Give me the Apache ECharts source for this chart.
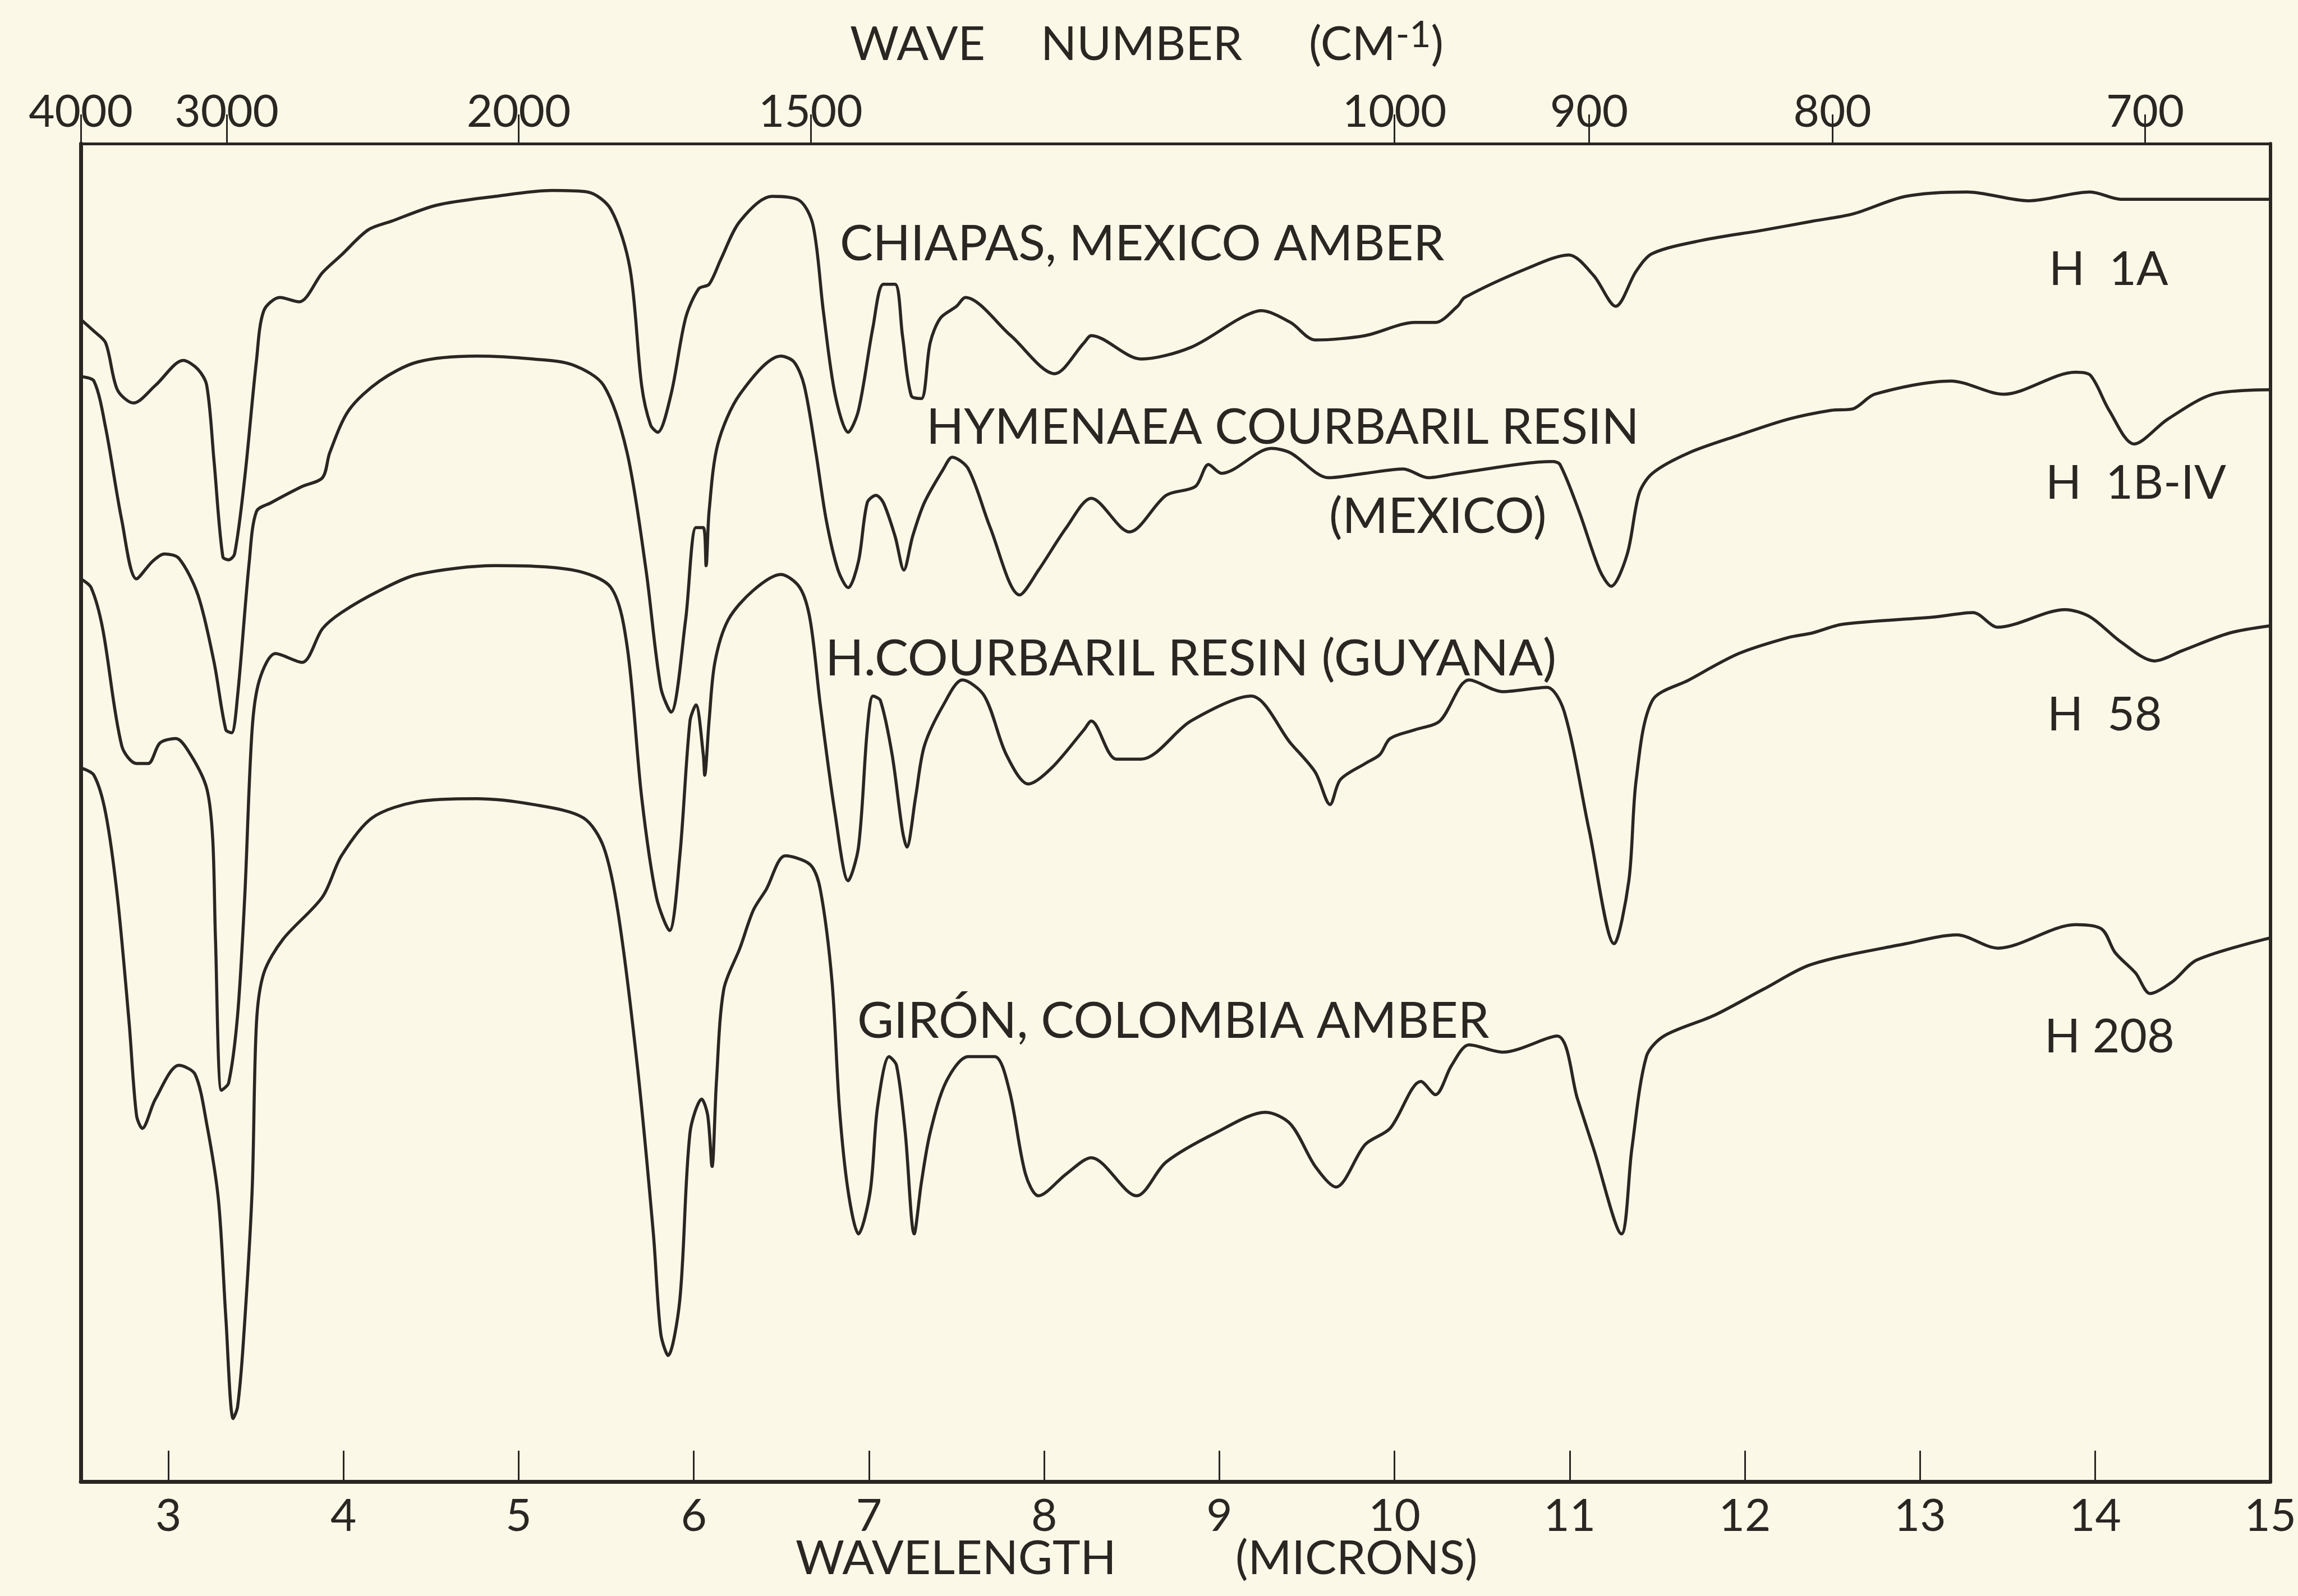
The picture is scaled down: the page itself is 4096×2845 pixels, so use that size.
<!DOCTYPE html>
<html>
<head>
<meta charset="utf-8">
<script src="https://cdn.jsdelivr.net/npm/echarts@6/dist/echarts.min.js"></script>
<style>
  html, body { margin: 0; padding: 0; background: #fbf8e8; }
  #chart { width: 4096px; height: 2845px; }
</style>
</head>
<body>
<div id="chart"></div>
<script>
// ---- tick labels ----
const wavelengthTicks = [3, 4, 5, 6, 7, 8, 9, 10, 11, 12, 13, 14, 15];
const wavenumberTicks = [4000, 3000, 2000, 1500, 1000, 900, 800, 700];

// ---- sample labels ----
const sampleNames = ['CHIAPAS, MEXICO AMBER', 'HYMENAEA COURBARIL RESIN', '(MEXICO)', 'H.COURBARIL RESIN (GUYANA)', 'GIRÓN, COLOMBIA AMBER'];
const sampleCodes = ['H  1A', 'H  1B-IV', 'H  58', 'H 208'];

// ---- spectra: [wavelength (microns), trace height (arbitrary units, offset traces)] ----
const chiapasAmber = [
  [2.50,793],[2.575,785],[2.642,777],[2.709,745],[2.801,736],[2.926,748],[3.085,765],[3.169,759],
  [3.219,748],[3.261,696],[3.311,631],[3.344,629],[3.378,633],[3.436,685],[3.503,765],[3.545,799],
  [3.637,808],[3.746,805],[3.880,825],[3.988,837],[4.139,854],[4.273,860],[4.532,871],[4.866,877],
  [5.192,881],[5.393,880],[5.527,868],[5.635,828],[5.702,748],[5.753,721],[5.794,716],[5.870,742],
  [5.953,794],[6.028,814],[6.087,817],[6.154,834],[6.263,860],[6.446,877],[6.605,874],[6.681,857],
  [6.739,799],[6.806,742],[6.881,716],[6.940,731],[7.023,788],[7.082,817],[7.149,817],[7.191,782],
  [7.241,741],[7.299,739],[7.349,777],[7.408,794],[7.500,802],[7.550,808],[7.809,782],[8.060,756],
  [8.227,777],[8.269,782],[8.554,766],[8.838,774],[9.122,794],[9.239,799],[9.406,791],[9.548,779],
  [9.833,782],[10.117,791],[10.234,791],[10.360,802],[10.401,808],[10.761,828],[10.995,837],
  [11.137,823],[11.263,802],[11.380,826],[11.472,838],[11.756,847],[12.107,854],[12.383,860],[12.617,865],
  [12.918,877],[13.269,880],[13.620,874],[13.972,880],[14.147,875],[14.498,875],[15.0,875]
];
const hymenaeaMexico = [
  [2.50,754],[2.575,751],[2.642,719],[2.734,656],[2.818,616],[2.910,628],[2.977,633],[3.060,630],
  [3.169,605],[3.261,559],[3.328,513],[3.361,511],[3.395,536],[3.462,628],[3.503,662],[3.587,668],
  [3.763,679],[3.880,685],[3.921,702],[4.030,731],[4.206,751],[4.423,764],[4.758,768],[5.084,766],
  [5.309,762],[5.485,748],[5.619,702],[5.727,622],[5.811,542],[5.870,525],[5.953,588],[6.012,651],
  [6.054,651],[6.070,625],[6.087,662],[6.137,708],[6.263,742],[6.497,768],[6.572,764],[6.630,748],
  [6.697,702],[6.756,656],[6.823,622],[6.881,610],[6.940,628],[6.990,668],[7.040,673],[7.082,668],
  [7.149,645],[7.199,622],[7.249,645],[7.316,668],[7.425,691],[7.475,699],[7.567,691],[7.692,651],
  [7.860,605],[7.968,622],[8.127,651],[8.269,671],[8.487,648],[8.696,673],[8.863,679],[8.938,694],
  [9.013,688],[9.298,705],[9.406,702],[9.624,685],[9.833,688],[10.050,691],[10.192,685],[10.360,688],
  [10.903,696],[10.945,694],[11.054,662],[11.171,622],[11.237,611],[11.329,633],[11.396,674],
  [11.472,688],[11.681,702],[11.965,714],[12.249,725],[12.492,731],[12.617,732],[12.742,742],
  [13.177,751],[13.478,742],[13.888,757],[13.972,755],[14.080,731],[14.222,708],[14.415,725],
  [14.674,742],[15.0,745]
];
const courbarilGuyana = [
  [2.50,616],[2.559,610],[2.625,582],[2.734,502],[2.818,490],[2.885,490],[2.952,504],[3.043,507],
  [3.127,496],[3.219,473],[3.253,439],[3.269,370],[3.303,267],[3.344,272],[3.395,318],[3.436,399],
  [3.478,513],[3.520,547],[3.612,565],[3.763,559],[3.880,582],[3.988,593],[4.206,608],[4.423,619],
  [4.866,625],[5.309,622],[5.527,610],[5.619,570],[5.702,467],[5.786,399],[5.861,376],[5.920,427],
  [5.978,519],[6.012,530],[6.054,496],[6.062,482],[6.087,519],[6.120,559],[6.196,588],[6.338,608],
  [6.497,619],[6.605,610],[6.664,588],[6.722,530],[6.806,456],[6.881,410],[6.940,433],[6.990,513],
  [7.023,536],[7.065,533],[7.132,496],[7.191,444],[7.216,433],[7.266,467],[7.316,502],[7.425,530],
  [7.533,547],[7.659,536],[7.784,496],[7.910,476],[8.043,487],[8.227,513],[8.269,519],[8.411,493],
  [8.554,493],[8.838,519],[9.181,536],[9.406,504],[9.548,484],[9.632,462],[9.691,479],[9.833,490],
  [9.916,496],[9.975,507],[10.117,513],[10.259,519],[10.426,547],[10.619,539],[10.870,542],
  [10.970,525],[11.112,444],[11.254,367],[11.338,410],[11.380,479],[11.472,533],[11.681,547],
  [11.965,565],[12.249,576],[12.383,579],[12.559,585],[13.085,590],[13.303,593],[13.445,583],
  [13.829,595],[13.972,590],[14.147,573],[14.339,560],[14.498,567],[14.766,579],[15.0,584]
];
const gironColombiaAmber = [
  [2.50,487],[2.575,482],[2.642,456],[2.709,399],[2.776,313],[2.818,250],[2.851,241],[2.926,261],
  [3.060,284],[3.152,278],[3.219,244],[3.286,192],[3.328,112],[3.370,43],[3.395,51],[3.428,95],
  [3.478,198],[3.503,313],[3.545,347],[3.654,370],[3.880,399],[3.988,427],[4.164,453],[4.423,464],
  [4.758,466],[5.084,462],[5.368,453],[5.485,433],[5.569,387],[5.677,284],[5.769,169],[5.811,101],
  [5.853,86],[5.920,124],[5.978,238],[6.045,261],[6.079,250],[6.104,215],[6.129,273],[6.171,336],
  [6.263,364],[6.340,390],[6.413,404],[6.522,427],[6.664,421],[6.722,404],[6.789,341],[6.831,255],[6.881,198],
  [6.940,169],[7.007,198],[7.048,255],[7.115,290],[7.157,284],[7.207,238],[7.258,169],[7.299,204],
  [7.349,238],[7.441,273],[7.567,290],[7.717,290],[7.801,267],[7.893,210],[7.968,195],[8.127,210],
  [8.269,221],[8.528,195],[8.696,218],[8.980,238],[9.264,252],[9.406,244],[9.548,215],[9.666,201],
  [9.833,230],[9.975,241],[10.151,273],[10.234,264],[10.326,284],[10.426,298],[10.619,293],
  [10.928,304],[11.045,261],[11.137,227],[11.296,169],[11.355,227],[11.438,290],[11.538,304],
  [11.823,318],[12.107,336],[12.383,353],[12.918,367],[13.211,373],[13.445,364],[13.888,380],
  [14.038,377],[14.114,361],[14.231,347],[14.314,333],[14.440,341],[14.582,356],[15.0,371]
];

const INK = '#2a2622';
const FONT = 'Lato, "Noto Sans", sans-serif';

const chart = echarts.init(document.getElementById('chart'));

function trace(name, data) {
  return {
    name: name, type: 'line', data: data,
    xAxisIndex: 0, yAxisIndex: 0,
    showSymbol: false, symbol: 'none', smooth: 0.3,
    lineStyle: { color: INK, width: 5.5 },
    silent: true
  };
}

function txt(text, x, y, size) {
  return {
    type: 'text', x: x, y: y, silent: true,
    style: { text: text, fill: INK, font: size + 'px ' + FONT, align: 'left', verticalAlign: 'middle' }
  };
}

const option = {
  backgroundColor: '#fbf8e8',
  animation: false,
  grid: { left: 144, right: 47, top: 256, bottom: 204, containLabel: false },
  xAxis: [
    {
      type: 'value', position: 'bottom', min: 2.5, max: 15,
      axisLine: { show: true, lineStyle: { color: INK, width: 7 } },
      axisTick: { show: true, inside: true, length: 55, customValues: wavelengthTicks,
                  lineStyle: { color: INK, width: 3 } },
      axisLabel: { show: true, customValues: wavelengthTicks, margin: 22,
                   color: INK, fontSize: 80, fontFamily: FONT },
      splitLine: { show: false }
    },
    {
      type: 'value', position: 'top', min: 2.5, max: 15,
      axisLine: { show: true, onZero: false, lineStyle: { color: INK, width: 5 } },
      axisTick: { show: true, inside: false, length: 52,
                  customValues: wavenumberTicks.map(w => 10000 / w),
                  lineStyle: { color: INK, width: 3 } },
      axisLabel: { show: true, customValues: wavenumberTicks.map(w => 10000 / w), margin: 16,
                   color: INK, fontSize: 80, fontFamily: FONT,
                   formatter: v => String(Math.round(10000 / v)) },
      splitLine: { show: false }
    }
  ],
  yAxis: [
    {
      type: 'value', position: 'left', min: 0, max: 913,
      axisLine: { show: true, lineStyle: { color: INK, width: 7 } },
      axisTick: { show: false }, axisLabel: { show: false }, splitLine: { show: false }
    },
    {
      type: 'value', position: 'right', min: 0, max: 913,
      axisLine: { show: true, lineStyle: { color: INK, width: 6 } },
      axisTick: { show: false }, axisLabel: { show: false }, splitLine: { show: false }
    }
  ],
  series: [
    trace(sampleNames[0], chiapasAmber),
    trace(sampleNames[1] + ' ' + sampleNames[2], hymenaeaMexico),
    trace(sampleNames[3], courbarilGuyana),
    trace(sampleNames[4], gironColombiaAmber)
  ],
  graphic: [
    // axis titles
    txt('WAVE', 1515, 80, 84),
    txt('NUMBER', 1855, 80, 84),
    {
      type: 'text', x: 2333, y: 80, silent: true,
      style: {
        text: '{a|(CM}{s|-1}{a|)}', fill: INK, align: 'left', verticalAlign: 'middle',
        rich: {
          a: { fontSize: 84, fontFamily: FONT, lineHeight: 100, verticalAlign: 'middle', fill: INK },
          s: { fontSize: 66, fontFamily: FONT, lineHeight: 66, verticalAlign: 'top', fill: INK }
        }
      }
    },
    txt('WAVELENGTH', 1418, 2779, 84),
    txt('(MICRONS)', 2202, 2779, 84),
    // trace labels
    txt(sampleNames[0], 1497, 436, 88),
    txt(sampleNames[1], 1651, 763, 88),
    txt(sampleNames[2], 2369, 922, 88),
    txt(sampleNames[3], 1471, 1175, 90),
    txt(sampleNames[4], 1528, 1821, 89),
    txt(sampleCodes[0], 3652, 481, 84),
    txt(sampleCodes[1], 3646, 862, 84),
    txt(sampleCodes[2], 3649, 1275, 84),
    txt(sampleCodes[3], 3644, 1849, 84)
  ]
};

chart.setOption(option);
</script>
</body>
</html>
